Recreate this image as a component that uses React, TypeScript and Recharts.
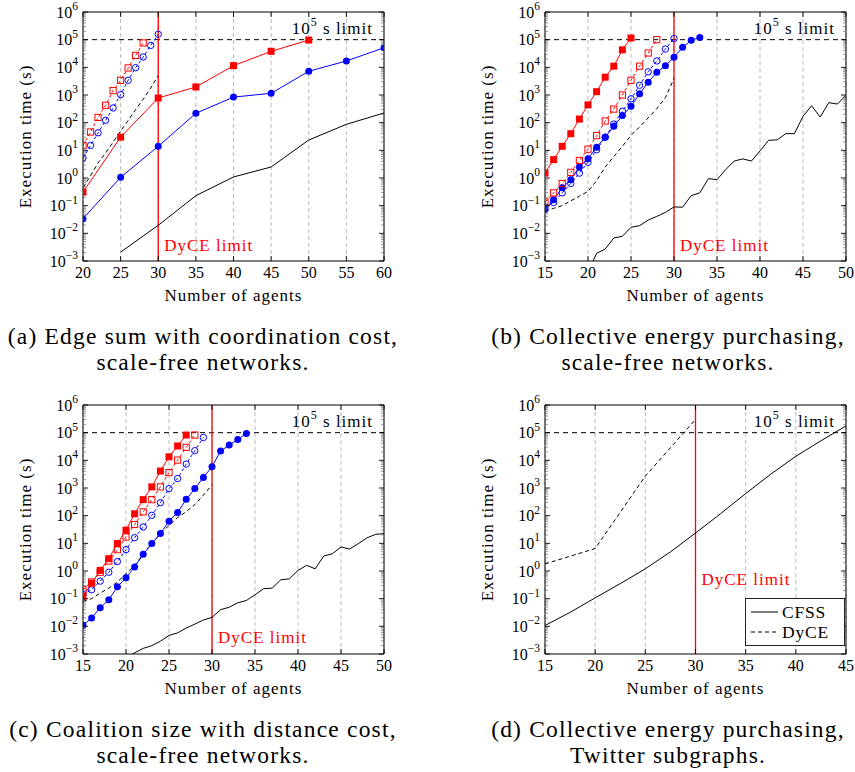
import React from 'react';
import { LineChart, Line, XAxis, YAxis, CartesianGrid, ReferenceLine, Legend } from 'recharts';

const SERIF = '"Liberation Serif", "Times New Roman", serif';
const RED = '#ff0000';
const BLUE = '#0000ff';

// ---- axes / ticks ----
const yMajorExponents = [-3, -2, -1, 0, 1, 2, 3, 4, 5, 6];
const yMinorMultipliers = [2, 3, 4, 5, 6, 7, 8, 9];
const Y_DOMAIN = [1e-3, 1e6];
const LIMIT_Y = 1e5;
const DYCE_LIMIT_X = 30;

const xTicksA = [20, 25, 30, 35, 40, 45, 50, 55, 60];
const xTicksBC = [15, 20, 25, 30, 35, 40, 45, 50];
const xTicksD = [15, 20, 25, 30, 35, 40, 45];

// ---- panel (a) ----
const aRedFilledX = [20, 25, 30, 35, 40, 45, 50];
const aRedFilledY = [0.31, 30, 780, 1950, 11500, 38000, 97000];
const aBlueFilledX = [20, 25, 30, 35, 40, 45, 50, 55, 60];
const aBlueFilledY = [0.034, 1.06, 14, 218, 840, 1150, 7200, 17000, 51000];
const aRedOpenX = [20, 21, 22, 23, 24, 25, 26, 27, 28];
const aRedOpenY = [15, 46, 155, 425, 1440, 3400, 9500, 27000, 76000];
const aBlueOpenX = [20, 21, 22, 23, 24, 25, 26, 27, 28, 29, 30];
const aBlueOpenY = [5.3, 15, 43, 122, 340, 1030, 3400, 9700, 23700, 62000, 156000];
const aCfssX = [25, 30, 35, 40, 45, 50, 55, 60];
const aCfssY = [0.0021, 0.0195, 0.23, 1.09, 2.5, 23.6, 87, 224];
const aDyceX = [20, 21, 22, 23, 24, 25, 26, 27, 28, 29, 30];
const aDyceY = [0.45, 1.2, 3.5, 8, 20, 50, 120, 300, 700, 1800, 5000];

// ---- panel (b) ----
const bRedFilledX = [15, 16, 17, 18, 19, 20, 21, 22, 23, 24, 25];
const bRedFilledY = [1.5, 4.6, 14, 40, 135, 440, 1320, 4400, 11000, 43000, 115000];
const bRedOpenX = [15, 16, 17, 18, 19, 20, 21, 22, 23, 24, 25, 26, 27, 28];
const bRedOpenY = [0.135, 0.29, 0.63, 1.6, 4.3, 11, 34, 115, 310, 1000, 3400, 11000, 33000, 100000];
const bBlueFilledX = [15, 16, 17, 18, 19, 20, 21, 22, 23, 24, 25, 26, 27, 28, 29, 30, 31, 32, 33];
const bBlueFilledY = [0.072, 0.165, 0.44, 0.87, 2.5, 5, 13, 30, 74, 180, 390, 1100, 2900, 6600, 11500, 23000, 53000, 95000, 120000];
const bBlueOpenX = [15, 16, 17, 18, 19, 20, 21, 22, 23, 24, 25, 26, 27, 28, 29, 30];
const bBlueOpenY = [0.09, 0.13, 0.29, 0.63, 1.5, 3.7, 10.5, 30, 89, 260, 730, 2250, 6900, 17000, 46000, 110000];
const bCfssX = [20, 21, 22, 23, 24, 25, 26, 27, 28, 29, 30, 31, 32, 33, 34, 35, 36, 37, 38, 39, 40, 41, 42, 43, 44, 45, 46, 47, 48, 49, 50];
const bCfssY = [0.0004, 0.0019, 0.0027, 0.0068, 0.0078, 0.0165, 0.019, 0.03, 0.041, 0.057, 0.09, 0.088, 0.23, 0.29, 0.95, 0.87, 2.0, 4.1, 4.9, 4.1, 9.5, 23, 24, 40, 40, 170, 410, 160, 530, 470, 980];
const bDyceX = [15, 16, 17, 18, 19, 20, 21, 22, 23, 24, 25, 26, 27, 28, 29, 30];
const bDyceY = [0.065, 0.08, 0.1, 0.15, 0.22, 0.33, 0.8, 2.5, 6, 14, 35, 70, 150, 320, 800, 4000];

// ---- panel (c) ----
const cRedFilledX = [15, 16, 17, 18, 19, 20, 21, 22, 23, 24, 25, 26, 27];
const cRedFilledY = [0.12, 0.36, 1.05, 2.8, 9.8, 30, 117, 380, 1100, 4100, 13400, 33000, 82000];
const cRedOpenX = [15, 16, 17, 18, 19, 20, 21, 22, 23, 24, 25, 26, 27, 28];
const cRedOpenY = [0.21, 0.4, 0.9, 2.3, 5.9, 17, 48, 137, 380, 1100, 3600, 10200, 29500, 82000];
const cBlueOpenX = [15, 16, 17, 18, 19, 20, 21, 22, 23, 24, 25, 26, 27, 28, 29];
const cBlueOpenY = [0.14, 0.21, 0.43, 0.9, 2.2, 5.9, 16, 39, 103, 295, 950, 2200, 7300, 22300, 67000];
const cBlueFilledX = [15, 16, 17, 18, 19, 20, 21, 22, 23, 24, 25, 26, 27, 28, 29, 30, 31, 32, 33, 34];
const cBlueFilledY = [0.011, 0.02, 0.047, 0.091, 0.27, 0.57, 1.4, 4.0, 9.8, 22.6, 63, 130, 390, 950, 2400, 5900, 21600, 35500, 57000, 94000];
const cCfssX = [20, 21, 22, 23, 24, 25, 26, 27, 28, 29, 30, 31, 32, 33, 34, 35, 36, 37, 38, 39, 40, 41, 42, 43, 44, 45, 46, 47, 48, 49, 50];
const cCfssY = [0.00075, 0.0011, 0.0016, 0.002, 0.0029, 0.0047, 0.0058, 0.0087, 0.012, 0.017, 0.021, 0.04, 0.049, 0.071, 0.086, 0.138, 0.23, 0.24, 0.48, 0.52, 1.05, 1.6, 1.2, 3.5, 4.2, 7.4, 6.2, 9.7, 15.6, 21, 22.5];
const cDyceX = [15, 16, 17, 18, 19, 20, 21, 22, 23, 24, 25, 26, 27, 28, 29, 30];
const cDyceY = [0.08, 0.1, 0.16, 0.24, 0.4, 0.8, 1.6, 4, 10, 22, 45, 85, 140, 250, 550, 1300];

// ---- panel (d) ----
const dCfssX = [15, 17.5, 20, 22.5, 25, 27.5, 30, 32.5, 35, 37.5, 40, 42.5, 45];
const dCfssY = [0.0107, 0.032, 0.107, 0.35, 1.2, 4.9, 23.5, 118, 630, 3160, 14000, 51000, 175000];
const dDyceX = [15, 20, 25, 30];
const dDyceY = [1.8, 6.5, 2700, 300000];

// ---- captions ----
const captionA = ['(a) Edge sum with coordination cost,', 'scale-free networks.'];
const captionB = ['(b) Collective energy purchasing,', 'scale-free networks.'];
const captionC = ['(c) Coalition size with distance cost,', 'scale-free networks.'];
const captionD = ['(d) Collective energy purchasing,', 'Twitter subgraphs.'];

const yTicks: number[] = [];
yMajorExponents.forEach((e) => {
  yTicks.push(Math.pow(10, e));
  if (e < 6) yMinorMultipliers.forEach((m) => yTicks.push(m * Math.pow(10, e)));
});

const pts = (xs: number[], ys: number[]) => xs.map((x, i) => ({ x, y: ys[i] }));

type Marker = 'sq' | 'sqo' | 'ci' | 'cio' | 'none';
type Series = { name: string; xs: number[]; ys: number[]; color: string; dash?: string; marker: Marker; legend?: boolean };

const isMajor = (v: number) => Math.abs(Math.log10(v) - Math.round(Math.log10(v))) < 1e-6;

function makeDot(marker: Marker, color: string) {
  return (p: any) => {
    const { cx, cy, index } = p;
    const k = `d${index}`;
    if (cx == null || cy == null || isNaN(cx) || isNaN(cy)) return <g key={k} />;
    if (marker === 'sq') return <rect key={k} x={cx - 3.5} y={cy - 3.5} width={7} height={7} fill={color} />;
    if (marker === 'sqo') return <rect key={k} x={cx - 3.1} y={cy - 3.1} width={6.2} height={6.2} fill="none" stroke={color} strokeWidth={1} />;
    if (marker === 'ci') return <circle key={k} cx={cx} cy={cy} r={3.5} fill={color} />;
    if (marker === 'cio') return <circle key={k} cx={cx} cy={cy} r={3.2} fill="none" stroke={color} strokeWidth={1} />;
    return <g key={k} />;
  };
}

const expText = (e: number) => (e < 0 ? '\u2212' + -e : String(e));

function LeftYTick(p: any) {
  const { x, y, payload } = p;
  const v = payload.value;
  const major = isMajor(v);
  const ax = x + 5;
  const e = Math.round(Math.log10(v));
  return (
    <g>
      <line x1={ax} x2={ax + (major ? 5 : 3)} y1={y} y2={y} stroke={major ? '#000' : '#555'} strokeWidth={major ? 0.9 : 0.6} />
      {major && (
        <text x={x} y={y + 5.5} textAnchor="end" fontFamily={SERIF} fontSize={16} fill="#000">
          <tspan>10</tspan>
          <tspan dy={-7.5} fontSize={11.5}>{expText(e)}</tspan>
        </text>
      )}
    </g>
  );
}

function RightYTick(p: any) {
  const { x, y, payload } = p;
  const major = isMajor(payload.value);
  return <line x1={x} x2={x - (major ? 5 : 3)} y1={y} y2={y} stroke={major ? '#000' : '#555'} strokeWidth={major ? 0.9 : 0.6} />;
}

function BottomXTick(p: any) {
  const { x, y, payload } = p;
  const ay = y - 4;
  return (
    <g>
      <line x1={x} x2={x} y1={ay} y2={ay - 5} stroke="#000" strokeWidth={0.9} />
      <text x={x} y={ay + 17} textAnchor="middle" fontFamily={SERIF} fontSize={16} fill="#000">{payload.value}</text>
    </g>
  );
}

function TopXTick(p: any) {
  const { x, y } = p;
  return <line x1={x} x2={x} y1={y} y2={y + 5} stroke="#000" strokeWidth={0.9} />;
}

function LegendBox(props: any) {
  const items = (props.payload || []).filter((e: any) => e.type !== 'none');
  return (
    <div style={{ border: '1.2px solid #222', background: '#fff', padding: '3px 4px 3px 5px', fontFamily: SERIF, fontSize: 17.5, letterSpacing: 0.8, boxSizing: 'border-box', width: 100, height: 48 }}>
      {items.map((e: any, i: number) => (
        <div key={i} style={{ display: 'flex', alignItems: 'center', height: 20 }}>
          <svg width={27} height={10} style={{ marginRight: 4 }}>
            <line x1={0} x2={27} y1={5} y2={5} stroke="#000" strokeWidth={1} strokeDasharray={e.payload && e.payload.strokeDasharray} />
          </svg>
          <span>{e.value}</span>
        </div>
      ))}
    </div>
  );
}

type PanelCfg = {
  left: number;
  top: number;
  xDomain: number[];
  xTicks: number[];
  series: Series[];
  caption: string[];
  captionCenter: number;
  dyceFromBottom: number;
  legend?: boolean;
};

function Panel({ cfg }: { cfg: PanelCfg }) {
  const W = 400;
  const H = 310;
  return (
    <div style={{ position: 'absolute', left: cfg.left, top: cfg.top, width: W, height: H }}>
      <LineChart width={W} height={H} margin={{ top: 11, right: 15, bottom: 24, left: 43 }}>
        <CartesianGrid horizontal={false} vertical strokeDasharray="4 3" stroke="#a8a8a8" strokeWidth={0.8} />
        <XAxis
          type="number"
          dataKey="x"
          domain={cfg.xDomain}
          ticks={cfg.xTicks}
          interval={0}
          allowDataOverflow
          height={25}
          tickSize={0}
          tickMargin={4}
          tickLine={false}
          tick={BottomXTick}
          axisLine={{ stroke: '#000', strokeWidth: 1 }}
          label={(lp: any) => {
            const vb = lp.viewBox || {};
            return (
              <text x={vb.x + vb.width / 2} y={vb.y + 40} textAnchor="middle" fontFamily={SERIF} fontSize={17} letterSpacing={1} fill="#000">
                Number of agents
              </text>
            );
          }}
        />
        <XAxis
          xAxisId="t"
          orientation="top"
          type="number"
          dataKey="x"
          domain={cfg.xDomain}
          ticks={cfg.xTicks}
          interval={0}
          allowDataOverflow
          height={1}
          tickSize={0}
          tickMargin={0}
          tickLine={false}
          tick={TopXTick}
          axisLine={{ stroke: '#000', strokeWidth: 1 }}
        />
        <YAxis
          type="number"
          scale="log"
          domain={Y_DOMAIN}
          allowDataOverflow
          ticks={yTicks}
          interval={0}
          width={40}
          tickSize={0}
          tickMargin={5}
          tickLine={false}
          tick={LeftYTick}
          axisLine={{ stroke: '#000', strokeWidth: 1 }}
          label={(lp: any) => {
            const vb = lp.viewBox || {};
            const cx = vb.x - 12;
            const cy = vb.y + vb.height / 2;
            return (
              <text transform={`translate(${cx}, ${cy}) rotate(-90)`} textAnchor="middle" fontFamily={SERIF} fontSize={17} letterSpacing={1} fill="#000">
                Execution time (s)
              </text>
            );
          }}
        />
        <YAxis
          yAxisId="r"
          orientation="right"
          type="number"
          scale="log"
          domain={Y_DOMAIN}
          allowDataOverflow
          ticks={yTicks}
          interval={0}
          width={1}
          tickSize={0}
          tickMargin={0}
          tickLine={false}
          tick={RightYTick}
          axisLine={{ stroke: '#000', strokeWidth: 1 }}
        />
        <ReferenceLine
          y={LIMIT_Y}
          stroke="#000"
          strokeWidth={1}
          strokeDasharray="5 4"
          label={(lp: any) => {
            const vb = lp.viewBox || {};
            return (
              <text x={vb.x + vb.width - 11} y={vb.y - 6} textAnchor="end" fontFamily={SERIF} fontSize={17} letterSpacing={1} fill="#000">
                <tspan>10</tspan>
                <tspan dy={-7.5} fontSize={12}>5</tspan>
                <tspan dy={7.5}> s limit</tspan>
              </text>
            );
          }}
        />
        <ReferenceLine
          x={DYCE_LIMIT_X}
          stroke={RED}
          strokeWidth={1.3}
          label={(lp: any) => {
            const vb = lp.viewBox || {};
            return (
              <text x={vb.x + 6} y={vb.y + vb.height - cfg.dyceFromBottom} textAnchor="start" fontFamily={SERIF} fontSize={17} letterSpacing={1} fill={RED}>
                DyCE limit
              </text>
            );
          }}
        />
        <Line
          xAxisId="t"
          yAxisId="r"
          data={pts(cfg.series[0].xs, cfg.series[0].ys)}
          dataKey="y"
          stroke="none"
          dot={false}
          activeDot={false}
          legendType="none"
          isAnimationActive={false}
        />
        {cfg.series.map((s) => (
          <Line
            key={s.name}
            name={s.name}
            data={pts(s.xs, s.ys)}
            dataKey="y"
            type="linear"
            stroke={s.color}
            strokeWidth={1}
            strokeDasharray={s.dash}
            dot={s.marker === 'none' ? false : makeDot(s.marker, s.color)}
            activeDot={false}
            legendType={s.legend ? 'line' : 'none'}
            isAnimationActive={false}
          />
        ))}
        {cfg.legend && (
          <Legend
            layout="vertical"
            align="center"
            verticalAlign="middle"
            width={100}
            wrapperStyle={{ left: 283, top: 205, width: 100, height: 48 }}
            content={(p: any) => <LegendBox payload={p.payload} />}
          />
        )}
      </LineChart>
    </div>
  );
}

const OPEN_DASH = '3 2.5';
const DYCE_DASH = '4 3';

const panels: PanelCfg[] = [
  {
    left: 0,
    top: 0,
    xDomain: [20, 60],
    xTicks: xTicksA,
    caption: captionA,
    captionCenter: 203,
    dyceFromBottom: 10,
    series: [
      { name: 'CFSS', xs: aCfssX, ys: aCfssY, color: '#000', marker: 'none' },
      { name: 'DyCE', xs: aDyceX, ys: aDyceY, color: '#000', dash: DYCE_DASH, marker: 'none' },
      { name: 'blueFilled', xs: aBlueFilledX, ys: aBlueFilledY, color: BLUE, marker: 'ci' },
      { name: 'redFilled', xs: aRedFilledX, ys: aRedFilledY, color: RED, marker: 'sq' },
      { name: 'blueOpen', xs: aBlueOpenX, ys: aBlueOpenY, color: BLUE, dash: OPEN_DASH, marker: 'cio' },
      { name: 'redOpen', xs: aRedOpenX, ys: aRedOpenY, color: RED, dash: OPEN_DASH, marker: 'sqo' },
    ],
  },
  {
    left: 462,
    top: 0,
    xDomain: [15, 50],
    xTicks: xTicksBC,
    caption: captionB,
    captionCenter: 668,
    dyceFromBottom: 10,
    series: [
      { name: 'CFSS', xs: bCfssX, ys: bCfssY, color: '#000', marker: 'none' },
      { name: 'DyCE', xs: bDyceX, ys: bDyceY, color: '#000', dash: DYCE_DASH, marker: 'none' },
      { name: 'blueOpen', xs: bBlueOpenX, ys: bBlueOpenY, color: BLUE, dash: OPEN_DASH, marker: 'cio' },
      { name: 'blueFilled', xs: bBlueFilledX, ys: bBlueFilledY, color: BLUE, marker: 'ci' },
      { name: 'redOpen', xs: bRedOpenX, ys: bRedOpenY, color: RED, dash: OPEN_DASH, marker: 'sqo' },
      { name: 'redFilled', xs: bRedFilledX, ys: bRedFilledY, color: RED, marker: 'sq' },
    ],
  },
  {
    left: 0,
    top: 393,
    xDomain: [15, 50],
    xTicks: xTicksBC,
    caption: captionC,
    captionCenter: 203,
    dyceFromBottom: 11,
    series: [
      { name: 'CFSS', xs: cCfssX, ys: cCfssY, color: '#000', marker: 'none' },
      { name: 'DyCE', xs: cDyceX, ys: cDyceY, color: '#000', dash: DYCE_DASH, marker: 'none' },
      { name: 'blueFilled', xs: cBlueFilledX, ys: cBlueFilledY, color: BLUE, marker: 'ci' },
      { name: 'blueOpen', xs: cBlueOpenX, ys: cBlueOpenY, color: BLUE, dash: OPEN_DASH, marker: 'cio' },
      { name: 'redFilled', xs: cRedFilledX, ys: cRedFilledY, color: RED, marker: 'sq' },
      { name: 'redOpen', xs: cRedOpenX, ys: cRedOpenY, color: RED, dash: OPEN_DASH, marker: 'sqo' },
    ],
  },
  {
    left: 462,
    top: 393,
    xDomain: [15, 45],
    xTicks: xTicksD,
    caption: captionD,
    captionCenter: 668,
    dyceFromBottom: 69,
    legend: true,
    series: [
      { name: 'CFSS', xs: dCfssX, ys: dCfssY, color: '#000', marker: 'none', legend: true },
      { name: 'DyCE', xs: dDyceX, ys: dDyceY, color: '#000', dash: DYCE_DASH, marker: 'none', legend: true },
    ],
  },
];

export default function App() {
  return (
    <div style={{ position: 'absolute', left: 0, top: 0, width: 855, height: 772, background: '#fff', fontFamily: SERIF, overflow: 'hidden' }}>
      {panels.map((p, i) => (
        <React.Fragment key={i}>
          <Panel cfg={p} />
          <div
            style={{
              position: 'absolute',
              left: p.captionCenter - 230,
              width: 460,
              top: p.top + 324,
              textAlign: 'center',
              fontSize: 23.5,
              letterSpacing: 1.2,
              lineHeight: '25.5px',
              color: '#000',
              fontFamily: SERIF,
            }}
          >
            <div>{p.caption[0]}</div>
            <div>{p.caption[1]}</div>
          </div>
        </React.Fragment>
      ))}
    </div>
  );
}
